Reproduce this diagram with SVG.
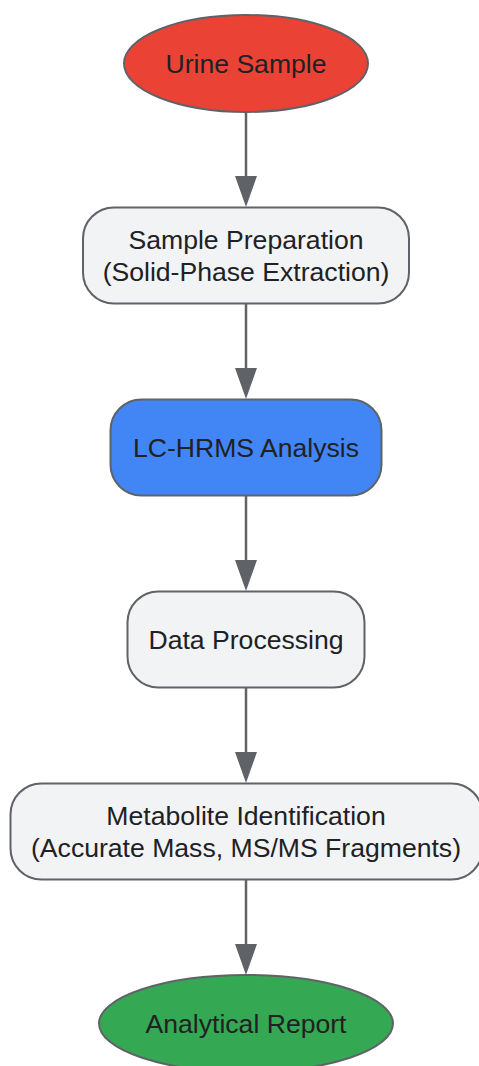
<svg xmlns="http://www.w3.org/2000/svg" width="479" height="1066" viewBox="0 0 479 1066">
<style>
  .node { stroke: #5f6368; stroke-width: 2; }
  .proc { fill: #f1f3f4; }
  .lbl { font-family: "Liberation Sans", Arial, sans-serif; font-size: 26.6px; fill: #202124; text-anchor: middle; }
  .edge { stroke: #5f6368; stroke-width: 2.5; fill: none; marker-end: url(#arrow); }
</style>
<defs>
  <marker id="arrow" viewBox="0 0 31 22" markerUnits="userSpaceOnUse" markerWidth="31" markerHeight="22" refX="0" refY="11" orient="auto">
    <path d="M0,0 L31,11 L0,22 Z" fill="#5f6368"/>
  </marker>
</defs>
<rect width="479" height="1066" fill="#ffffff"/>
<g id="connectors">
  <path class="edge" d="M246,112 L246,176"/>
  <path class="edge" d="M246,304 L246,368"/>
  <path class="edge" d="M246,495 L246,560"/>
  <path class="edge" d="M246,688 L246,752"/>
  <path class="edge" d="M246,880 L246,944"/>
</g>
<g id="urine-sample">
  <ellipse class="node" cx="246" cy="63.5" rx="122" ry="48.5" fill="#ea4335"/>
  <text class="lbl" x="246" y="73">Urine Sample</text>
</g>
<g id="sample-preparation">
  <rect class="node proc" x="83" y="207.5" width="326" height="96" rx="31" ry="31"/>
  <text class="lbl" x="246" y="249">Sample Preparation</text>
  <text class="lbl" x="246" y="281">(Solid-Phase Extraction)</text>
</g>
<g id="lc-hrms">
  <rect class="node" x="110.5" y="399.5" width="271" height="96" rx="31" ry="31" fill="#4285f4"/>
  <text class="lbl" x="246" y="456.5">LC-HRMS Analysis</text>
</g>
<g id="data-processing">
  <rect class="node proc" x="127.5" y="591.5" width="237" height="96" rx="31" ry="31"/>
  <text class="lbl" x="246" y="649">Data Processing</text>
</g>
<g id="metabolite-identification">
  <rect class="node proc" x="10.5" y="783.5" width="472" height="96" rx="31" ry="31"/>
  <text class="lbl" x="246" y="824.5">Metabolite Identification</text>
  <text class="lbl" x="246" y="856.5">(Accurate Mass, MS/MS Fragments)</text>
</g>
<g id="analytical-report">
  <ellipse class="node" cx="246" cy="1023.5" rx="147" ry="48.5" fill="#34a853"/>
  <text class="lbl" x="246" y="1033">Analytical Report</text>
</g>
</svg>
